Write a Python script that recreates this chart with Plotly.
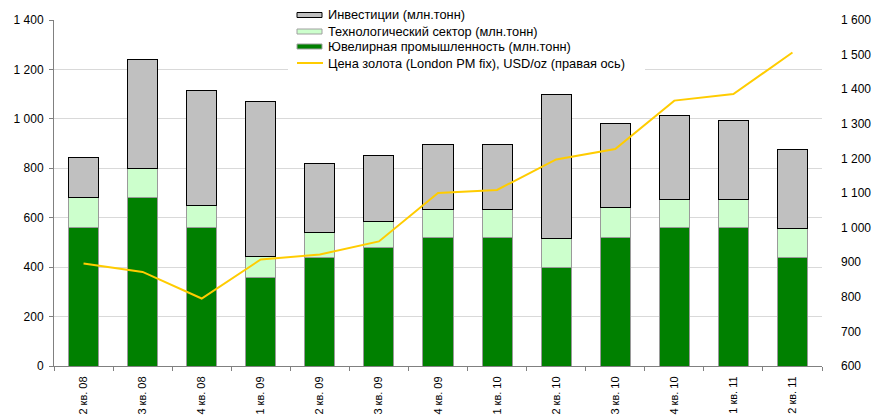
import plotly.graph_objects as go

quarters = ["2 кв. 08", "3 кв. 08", "4 кв. 08", "1 кв. 09", "2 кв. 09", "3 кв. 09", "4 кв. 09",
            "1 кв. 10", "2 кв. 10", "3 кв. 10", "4 кв. 10", "1 кв. 11", "2 кв. 11"]
jewelry = [560, 680, 560, 360, 440, 480, 520, 520, 400, 520, 560, 560, 440]
technology = [120, 120, 90, 85, 100, 105, 115, 115, 115, 120, 115, 115, 115]
investment = [165, 440, 465, 625, 280, 265, 260, 260, 585, 340, 340, 320, 320]
gold_price = [896, 872, 795, 908, 922, 960, 1100, 1109, 1197, 1227, 1367, 1386, 1506]

names = ["Инвестиции (млн.тонн)", "Технологический сектор (млн.тонн)",
         "Ювелирная промышленность (млн.тонн)",
         "Цена золота (London PM fix), USD/oz (правая ось)"]

FONT = "Liberation Sans, Arial, sans-serif"
W, H = 874, 419
ML, MR, MT, MB = 54, 52, 20, 53

fig = go.Figure()
fig.add_trace(go.Bar(x=quarters, y=jewelry, name=names[2], showlegend=False,
                     marker=dict(color="#008000", line=dict(color="#9a9a9a", width=1))))
fig.add_trace(go.Bar(x=quarters, y=technology, name=names[1], showlegend=False,
                     marker=dict(color="#CCFFCC", line=dict(color="#9a9a9a", width=1))))
fig.add_trace(go.Bar(x=quarters, y=investment, name=names[0], showlegend=False,
                     marker=dict(color="#C0C0C0", line=dict(color="#000000", width=1))))
fig.add_trace(go.Scatter(x=quarters, y=gold_price, yaxis="y2", mode="lines", name=names[3],
                         showlegend=False, line=dict(color="#FFCC00", width=2)))

# custom legend (Excel-style) in paper coordinates
pw = W - ML - MR
ph = H - MT - MB
def px(x):
    return (x - ML) / pw
def py(y):
    return (H - MB - y) / ph

shapes = [dict(type="rect", xref="paper", yref="paper", x0=px(288), x1=px(645), y0=py(72), y1=py(5),
               fillcolor="white", line=dict(width=0), layer="above")]
annotations = []
row_y = [15, 31.5, 46.5, 63]
key_style = [("#C0C0C0", "#000000"), ("#CCFFCC", "#a0a0a0"), ("#008000", "#a0a0a0")]
for i, name in enumerate(names):
    yc = row_y[i]
    if i < 3:
        fill, edge = key_style[i]
        shapes.append(dict(type="rect", xref="paper", yref="paper", x0=px(297), x1=px(322),
                           y0=py(yc + 2.5), y1=py(yc - 2.5), fillcolor=fill,
                           line=dict(color=edge, width=1), layer="above"))
    else:
        shapes.append(dict(type="line", xref="paper", yref="paper", x0=px(297), x1=px(323),
                           y0=py(yc), y1=py(yc), line=dict(color="#FFCC00", width=2), layer="above"))
    annotations.append(dict(xref="paper", yref="paper", x=px(326), y=py(yc), text=name,
                            showarrow=False, xanchor="left", yanchor="middle",
                            font=dict(family=FONT, size=12.8, color="#000000")))

fig.update_layout(
    width=W, height=H,
    margin=dict(l=ML, r=MR, t=MT, b=MB, autoexpand=False),
    paper_bgcolor="white", plot_bgcolor="white",
    barmode="stack", bargap=0.49,
    separators=", ",
    font=dict(family=FONT, size=12, color="#000000"),
    showlegend=False,
    shapes=shapes, annotations=annotations,
    xaxis=dict(type="category", showline=True, linecolor="#808080", linewidth=1,
               ticks="outside", tickson="boundaries", ticklen=4, tickcolor="#808080",
               tickangle=-90, showgrid=False, automargin=False, ticklabelstandoff=5,
               tickfont=dict(size=11, color="#000000")),
    yaxis=dict(range=[0, 1400], dtick=200, showline=True, linecolor="#808080", linewidth=1,
               ticks="outside", ticklen=4, tickcolor="#808080", separatethousands=True,
               showgrid=True, gridcolor="#D9D9D9", gridwidth=1, zeroline=False,
               automargin=False, ticklabelstandoff=3, tickfont=dict(size=12, color="#000000")),
    yaxis2=dict(range=[600, 1600], dtick=100, overlaying="y", side="right", showline=False,
                showgrid=False, zeroline=False, separatethousands=True, ticks="",
                automargin=False, ticklabelstandoff=18, tickfont=dict(size=12, color="#000000")),
)

fig.write_html("out.html")
